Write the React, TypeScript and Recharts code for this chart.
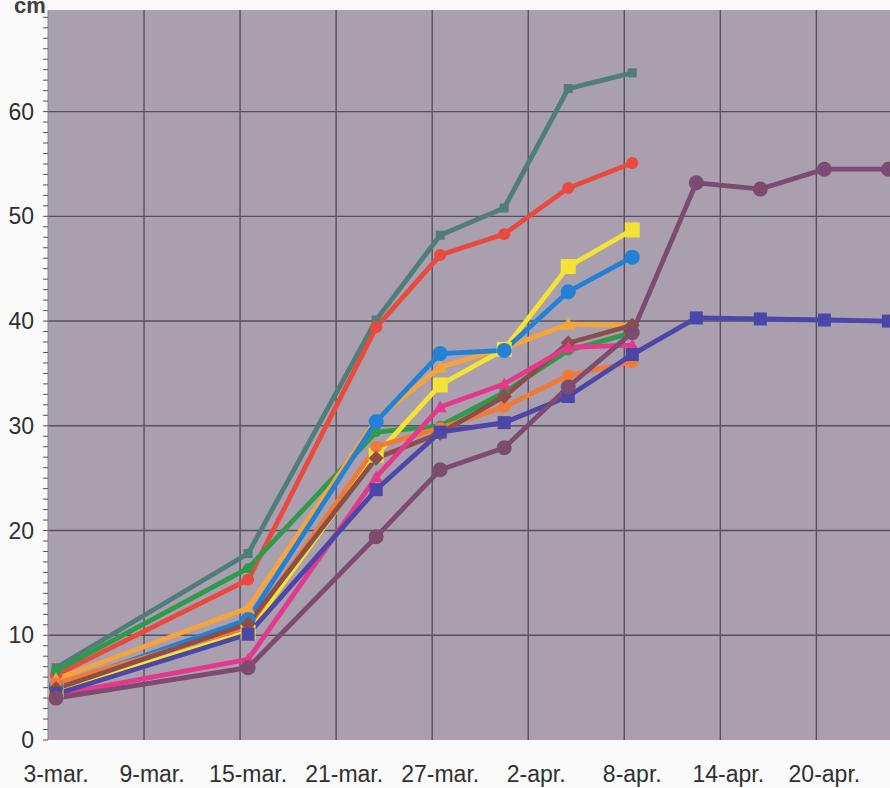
import React from 'react';
import { LineChart, Line, XAxis, YAxis, CartesianGrid, ReferenceLine } from 'recharts';

// days counted from 3 March; each reading sits in the middle of its day slot
const days = [0, 12, 20, 24, 28, 32, 36, 40, 44, 48, 52];
const dateLabels = ['3-mar.', '9-mar.', '15-mar.', '21-mar.', '27-mar.', '2-apr.', '8-apr.', '14-apr.', '20-apr.'];
const labelDays = [0, 6, 12, 18, 24, 30, 36, 42, 48];
const yTicksMajor = [0, 10, 20, 30, 40, 50, 60];

// heights in cm
const teal = [6.9, 17.8, 40.1, 48.2, 50.8, 62.2, 63.7];
const red = [6.2, 15.3, 39.4, 46.3, 48.3, 52.7, 55.1];
const green = [6.6, 16.4, 29.4, 30.0, 33.2, 37.2, 38.9];
const orange = [5.8, 12.6, 30.6, 35.6, 37.4, 39.7, 39.6];
const yellow = [4.7, 10.3, 27.2, 33.9, 37.3, 45.2, 48.7];
const blue = [5.1, 11.5, 30.4, 36.9, 37.2, 42.8, 46.1];
const darkOrange = [5.4, 10.8, 28.0, 29.8, 31.8, 34.8, 36.1];
const brown = [4.9, 11.1, 26.9, 29.3, 32.8, 37.9, 39.6];
const pink = [4.3, 7.7, 25.1, 31.8, 34.0, 37.5, 37.7];
const navy = [4.4, 10.1, 23.9, 29.4, 30.3, 32.8, 36.8, 40.3, 40.2, 40.1, 40.0];
const plum = [4.0, 6.9, 19.4, 25.8, 27.9, 33.7, 38.9, 53.2, 52.6, 54.5, 54.5];

const SERIES = [
  { key: 'teal', values: teal, color: '#4e7e77', shape: 'square', size: 9 },
  { key: 'red', values: red, color: '#e94a3d', shape: 'circle', size: 12 },
  { key: 'green', values: green, color: '#2f9a4a', shape: 'circle', size: 10 },
  { key: 'orange', values: orange, color: '#f6a53c', shape: 'triangle', size: 14 },
  { key: 'yellow', values: yellow, color: '#f3e336', shape: 'square', size: 15 },
  { key: 'blue', values: blue, color: '#2281d6', shape: 'circle', size: 15 },
  { key: 'darkOrange', values: darkOrange, color: '#f07a36', shape: 'circle', size: 12 },
  { key: 'brown', values: brown, color: '#8a4f4a', shape: 'diamond', size: 15 },
  { key: 'pink', values: pink, color: '#e4388a', shape: 'triangle', size: 13 },
  { key: 'navy', values: navy, color: '#4b46a8', shape: 'square', size: 13 },
  { key: 'plum', values: plum, color: '#7d4a70', shape: 'circle', size: 15 },
];

const data = days.map((d, i) => {
  const row: Record<string, number | undefined> = { day: d };
  SERIES.forEach((s) => {
    row[s.key] = s.values[i];
  });
  return row;
});

const X_DOMAIN: [number, number] = [-0.5, 52.1];
const Y_DOMAIN: [number, number] = [0, 69.7];
const dayBoundaries = Array.from({ length: 53 }, (_, i) => i - 0.5);
const yMinorTicks = Array.from({ length: 70 }, (_, i) => i);
const gridX = labelDays.slice(1).map((d) => d - 0.5);
const gridY = yTicksMajor.slice(1);

const FONT = '"Liberation Sans", Arial, sans-serif';
const tickStyle = { fontSize: 23, fill: '#303030', fontFamily: FONT };
const GRID = '#57515d';

function marker(shape: string, size: number, color: string) {
  return (p: any) => {
    const { cx, cy, index } = p;
    if (cx == null || cy == null || p.value == null) return <g key={`e-${index}`} />;
    const h = size / 2;
    if (shape === 'circle') return <circle key={index} cx={cx} cy={cy} r={h} fill={color} />;
    if (shape === 'square')
      return <rect key={index} x={cx - h} y={cy - h} width={size} height={size} fill={color} />;
    if (shape === 'diamond')
      return (
        <polygon
          key={index}
          points={`${cx},${cy - h} ${cx + h},${cy} ${cx},${cy + h} ${cx - h},${cy}`}
          fill={color}
        />
      );
    return (
      <polygon
        key={index}
        points={`${cx},${cy - h} ${cx + h},${cy + h * 0.8} ${cx - h},${cy + h * 0.8}`}
        fill={color}
      />
    );
  };
}

export default function App() {
  return (
    <div
      style={{
        position: 'absolute',
        left: 0,
        top: 0,
        width: 890,
        height: 788,
        overflow: 'hidden',
        background: '#fafafa',
        fontFamily: FONT,
      }}
    >
      <span
        style={{
          position: 'absolute',
          left: 14,
          top: -5,
          fontSize: 22,
          lineHeight: 1,
          fontWeight: 'bold',
          color: '#404040',
        }}
      >
        cm
      </span>
      <LineChart width={890} height={788} data={data} margin={{ top: 10, right: 0, bottom: 0, left: 0 }}>
        <CartesianGrid
          fill="#a99fae"
          fillOpacity={1}
          stroke={GRID}
          strokeWidth={1.4}
          vertical={false}
          horizontalValues={gridY}
        />
        {gridX.map((v) => (
          <ReferenceLine key={v} x={v} stroke={GRID} strokeWidth={1.4} />
        ))}
        {/* day tick marks */}
        <XAxis
          dataKey="day"
          type="number"
          domain={X_DOMAIN}
          allowDataOverflow
          ticks={dayBoundaries}
          interval={0}
          tick={false}
          tickSize={6}
          height={0}
          axisLine={{ stroke: '#454545', strokeWidth: 1.5 }}
          tickLine={{ stroke: '#555' }}
        />
        {/* date labels, centred on their day */}
        <XAxis
          xAxisId="labels"
          dataKey="day"
          type="number"
          domain={X_DOMAIN}
          allowDataOverflow
          ticks={labelDays}
          interval={0}
          tickFormatter={(v: number) => dateLabels[labelDays.indexOf(v)] ?? ''}
          tick={tickStyle}
          tickLine={false}
          axisLine={false}
          tickSize={6}
          tickMargin={20}
          height={48}
        />
        <YAxis
          type="number"
          domain={Y_DOMAIN}
          allowDataOverflow
          ticks={yMinorTicks}
          interval={0}
          tickFormatter={(v: number) => (yTicksMajor.includes(v) ? String(v) : '')}
          tick={tickStyle}
          tickSize={5}
          tickMargin={9}
          width={48}
          axisLine={{ stroke: '#8a8290' }}
          tickLine={{ stroke: '#555' }}
        />
        {SERIES.map((s) => (
          <Line
            key={s.key}
            dataKey={s.key}
            stroke={s.color}
            strokeWidth={4.8}
            dot={marker(s.shape, s.size, s.color)}
            activeDot={false}
            isAnimationActive={false}
          />
        ))}
      </LineChart>
    </div>
  );
}
